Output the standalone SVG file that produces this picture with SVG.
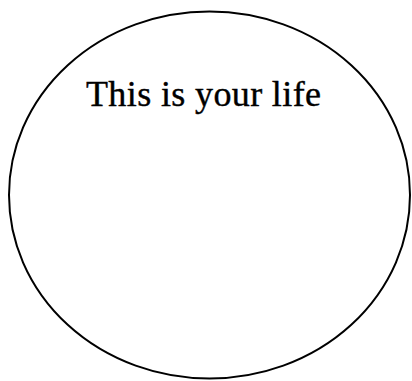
<svg xmlns="http://www.w3.org/2000/svg" width="412" height="381" viewBox="0 0 412 381">
<style>
.outline{fill:none;stroke:#000;stroke-width:2}
.label{font-family:"Liberation Serif","Times New Roman",serif;font-size:36px;fill:#000;stroke:#000;stroke-width:0.4}
</style>
<rect width="412" height="381" fill="#fff"/>
<g id="life">
<ellipse class="outline" cx="209.5" cy="195" rx="200.5" ry="183.5"/>
<text class="label" x="86" y="106" textLength="235">This is your life</text>
</g>
</svg>
